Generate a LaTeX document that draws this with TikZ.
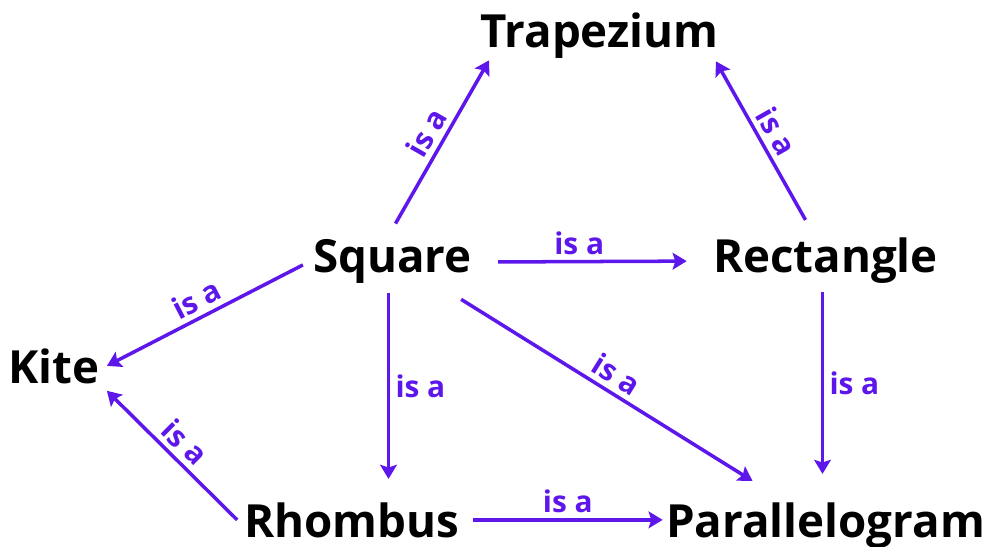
\documentclass[tikz,border=0pt]{standalone}
\usepackage{fontspec}
\setmainfont{Open Sans}
\usepackage{tikz}
\usetikzlibrary{arrows.meta,positioning,calc}

\definecolor{isapurple}{RGB}{94,23,235}

\begin{document}
\begin{tikzpicture}[
  x=0.02cm, y=-0.02cm,
  quad/.style={inner sep=4pt, anchor=base, font=\fontsize{26}{31}\selectfont\bfseries},
  arr/.style={-{Stealth[length=8pt, width=9.5pt, inset=1.5pt]}, line width=2pt, isapurple},
  lbl/.style={font=\fontsize{17}{20}\selectfont\bfseries, text=isapurple, inner sep=3pt}
]
\useasboundingbox (0,0) rectangle (987,547);

\node[quad] (trap) at (599.5,48) {Trapezium};
\node[quad] (sq) at (392.5,273) {Square};
\node[quad] (rect) at (825.5,273) {Rectangle};
\node[quad] (kite) at (54,383) {Kite};
\node[quad] (rhom) at (352,537) {Rhombus};
\node[quad] (para) at (825.5,537) {Parallelogram};

% edges out of the square
\draw[arr] ($(sq.north)+(3,-9)$) -- node[lbl, midway, sloped, above] {is a} ($(trap.south west)+(16,-6)$);
\draw[arr] ($(sq.east)+(19,0)$) -- node[lbl, pos=0.43, above] {is a} ($(rect.west)+(-19,0)$);
\draw[arr] ($(sq.west)+(-3,3)$) -- node[lbl, midway, sloped, above] {is a} (kite.east);
\draw[arr] ($(sq.south)+(-4,2)$) -- node[lbl, right] {is a} ($(sq.south |- rhom.north)+(-4,-16)$);
\draw[arr] ($(sq.south east)+(-18,8)$) -- node[lbl, midway, sloped, above] {is a} ($(para.north)+(-73,-14)$);

% edges out of the rectangle
\draw[arr] ($(rect.north)+(-20,-11)$) -- node[lbl, midway, sloped, above] {is a} ($(trap.south east)+(-10,-5)$);
\draw[arr] ($(rect.south)+(-3,1)$) -- node[lbl, right] {is a} ($(rect.south |- para.north)+(-3,-21)$);

% edges out of the rhombus
\draw[arr] (rhom.west) -- node[lbl, midway, sloped, above] {is a} (kite.south east);
\draw[arr] ($(rhom.east)+(6,0)$) -- node[lbl, above] {is a} ($(rhom.east -| para.west)+(4,0)$);

\end{tikzpicture}
\end{document}
